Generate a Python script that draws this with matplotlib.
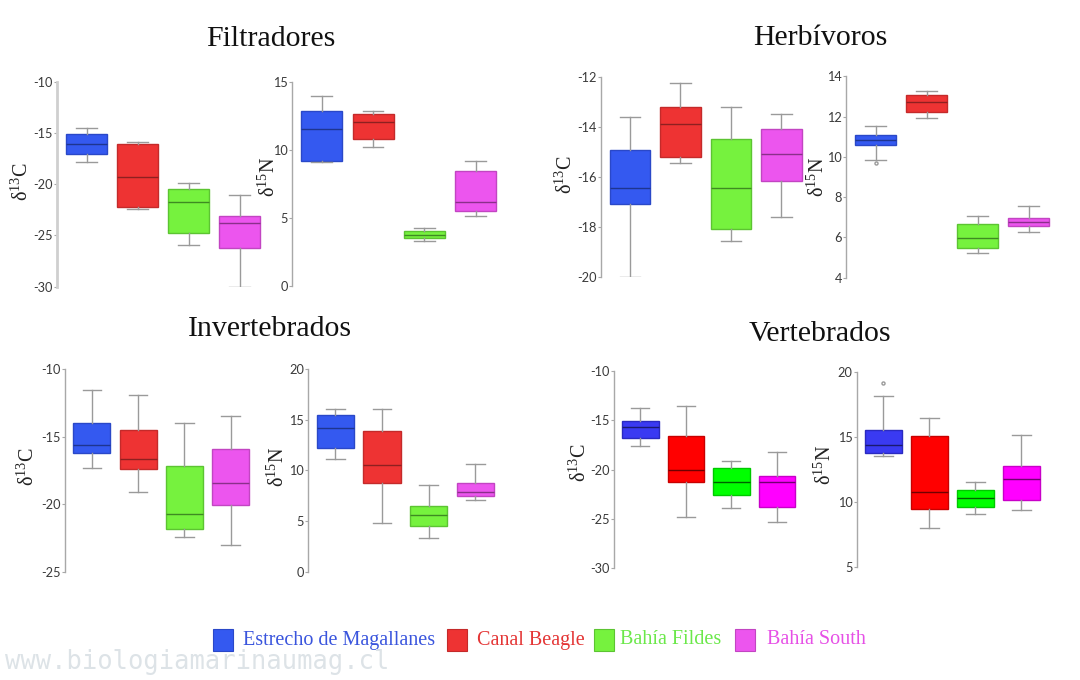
"""
Boxplots de isótopos estables (δ13C y δ15N) por grupo trófico y localidad.
"""

import matplotlib.pyplot as plt
from matplotlib.patches import Rectangle

plt.rcParams["font.family"] = ["Liberation Serif", "DejaVu Serif"]
plt.rcParams["mathtext.fontset"] = "custom"
plt.rcParams["mathtext.rm"] = "Liberation Serif"

# ---- datos: [bigote inf, Q1, mediana, Q3, bigote sup] por localidad ----
localidades = ["Estrecho de Magallanes", "Canal Beagle", "Bahía Fildes", "Bahía South"]

filt_c13 = [[-17.8, -17.1, -16.1, -15.1, -14.5],
            [-22.4, -22.2, -19.3, -16.1, -15.9],
            [-25.9, -24.8, -21.7, -20.5, -19.9],
            [-30.0, -26.2, -23.8, -23.1, -21.1]]
filt_n15 = [[9.1, 9.2, 11.5, 12.85, 13.95],
            [10.2, 10.75, 12.0, 12.6, 12.85],
            [3.25, 3.5, 3.75, 4.0, 4.25],
            [5.15, 5.5, 6.15, 8.4, 9.2]]

herb_c13 = [[-20.0, -17.1, -16.45, -14.95, -13.6],
            [-15.45, -15.2, -13.9, -13.2, -12.25],
            [-18.55, -18.1, -16.45, -14.5, -13.2],
            [-17.6, -16.15, -15.1, -14.1, -13.5]]
herb_n15 = [[9.85, 10.6, 10.82, 11.08, 11.52],
            [11.93, 12.23, 12.74, 13.05, 13.25],
            [5.25, 5.45, 5.95, 6.65, 7.05],
            [6.25, 6.55, 6.78, 6.95, 7.55]]
herb_n15_outliers = [[9.68], [], [], []]

inv_c13 = [[-17.3, -16.2, -15.6, -14.0, -11.55],
           [-19.1, -17.4, -16.65, -14.5, -11.9],
           [-22.45, -21.85, -20.75, -17.2, -14.0],
           [-23.0, -20.1, -18.4, -15.95, -13.45]]
inv_n15 = [[11.1, 12.25, 14.15, 15.45, 16.1],
           [4.8, 8.8, 10.5, 13.9, 16.1],
           [3.3, 4.55, 5.55, 6.5, 8.55],
           [7.05, 7.45, 7.85, 8.8, 10.6]]

vert_c13 = [[-17.6, -16.8, -15.7, -15.1, -13.8],
            [-24.8, -21.3, -20.0, -16.6, -13.5],
            [-23.9, -22.6, -21.3, -19.8, -19.1],
            [-25.35, -23.8, -21.3, -20.65, -18.2]]
vert_n15 = [[13.5, 13.8, 14.4, 15.5, 18.1],
            [8.0, 9.45, 10.8, 15.1, 16.45],
            [9.05, 9.6, 10.3, 10.95, 11.55],
            [9.4, 10.15, 11.8, 12.75, 15.15]]
vert_n15_outliers = [[19.1], [], [], []]

c13_ticks_filt = [-30, -25, -20, -15, -10]
n15_ticks_filt = [0, 5, 10, 15]
c13_ticks_herb = [-20, -18, -16, -14, -12]
n15_ticks_herb = [4, 6, 8, 10, 12, 14]
c13_ticks_inv = [-25, -20, -15, -10]
n15_ticks_inv = [0, 5, 10, 15, 20]
c13_ticks_vert = [-30, -25, -20, -15, -10]
n15_ticks_vert = [5, 10, 15, 20]

# ---- colores ----
suaves = ["#3459F0", "#EE3333", "#76F23E", "#EC55EE"]
bordes = ["#2A48C8", "#C42A2A", "#5CC432", "#C245C2"]
medianas = ["#1E3590", "#8E2020", "#3E8A22", "#8A308A"]
vivos = ["#3A3AF2", "#FF0000", "#00FF00", "#FF00FF"]
bordes_vivos = ["#2A2AC0", "#C80000", "#00C800", "#C800C8"]
medianas_vivas = ["#1A1A70", "#700000", "#006000", "#700070"]
leyenda_txt = ["#3A55DD", "#E43535", "#6BE84A", "#E650E6"]

W, H = 1080, 680
fig = plt.figure(figsize=(W / 100, H / 100), dpi=100)
fig.patch.set_facecolor("white")


def panel(left, top, bottom, spacing, stats, outliers, ylim, ticks,
          colors, edges, meds, spine_color="#A8A8A8", spine_w=1.0):
    """Crea un eje en coordenadas de píxel y dibuja 4 cajas."""
    x0, x1 = 0.42, 4.58
    width = (x1 - x0) * spacing
    ax = fig.add_axes([left / W, 1 - bottom / H, width / W, (bottom - top) / H])
    bx = []
    for i, s in enumerate(stats):
        bx.append({"whislo": s[0], "q1": s[1], "med": s[2], "q3": s[3],
                   "whishi": s[4], "fliers": outliers[i] if outliers else []})
    art = ax.bxp(bx, positions=[1, 2, 3, 4], widths=0.8, patch_artist=True,
                 showfliers=True,
                 whiskerprops={"color": "#9A9A9A", "linewidth": 1.0},
                 capprops={"color": "#9A9A9A", "linewidth": 1.0},
                 flierprops={"marker": "o", "markersize": 2.2,
                             "markerfacecolor": "none",
                             "markeredgecolor": "#9A9A9A"})
    for i, box in enumerate(art["boxes"]):
        box.set_facecolor(colors[i])
        box.set_edgecolor(edges[i])
        box.set_linewidth(1.0)
        art["medians"][i].set_color(meds[i])
        art["medians"][i].set_linewidth(1.0)
    ax.set_xlim(x0, x1)
    ax.set_ylim(*ylim)
    ax.set_yticks(ticks)
    ax.set_yticklabels([str(t) for t in ticks], fontfamily="Lato",
                       fontsize=9.2, color="#3A3A3A")
    ax.set_xticks([])
    ax.tick_params(axis="y", length=2, width=0.8, color="#A8A8A8", pad=1)
    for side in ("top", "right", "bottom"):
        ax.spines[side].set_visible(False)
    ax.spines["left"].set_color(spine_color)
    ax.spines["left"].set_linewidth(spine_w)
    ax.set_facecolor("none")
    return ax


def ylabel(x, y, iso, elem):
    fig.text(x / W, 1 - y / H, r"$\mathrm{δ^{%s}%s}$" % (iso, elem),
             rotation=90, ha="center", va="center", fontsize=14.5,
             color="#222222")


def title(x, y, txt):
    fig.text(x / W, 1 - y / H, txt, ha="center", va="center",
             fontsize=21.5, color="#111111")


# Filtradores
panel(57, 81.7, 286.7, 51, filt_c13, None, (-30, -10), c13_ticks_filt,
      suaves, bordes, medianas, spine_color="#CFCFCF", spine_w=2.0)
panel(292, 81.7, 285.7, 51.3, filt_n15, None, (0, 15), n15_ticks_filt,
      suaves, bordes, medianas)
ylabel(22, 182, "13", "C")
ylabel(269, 177, "15", "N")
title(271, 39, "Filtradores")

# Herbívoros
panel(600.7, 76.5, 277, 50.5, herb_c13, None, (-20, -12), c13_ticks_herb,
      suaves, bordes, medianas)
panel(846, 76.3, 277.7, 51, herb_n15, herb_n15_outliers, (4, 14),
      n15_ticks_herb, suaves, bordes, medianas)
ylabel(566, 175, "13", "C")
ylabel(818, 177, "15", "N")
title(820, 38, "Herbívoros")

# Invertebrados
panel(65, 369, 571.7, 46.3, inv_c13, None, (-25, -10), c13_ticks_inv,
      suaves, bordes, medianas)
panel(308.3, 369, 571.7, 46.7, inv_n15, None, (0, 20), n15_ticks_inv,
      suaves, bordes, medianas)
ylabel(28, 467, "13", "C")
ylabel(278, 467, "15", "N")
title(270, 329, "Invertebrados")

# Vertebrados
panel(614, 371, 568.3, 45.5, vert_c13, None, (-30, -10), c13_ticks_vert,
      vivos, bordes_vivos, medianas_vivas)
panel(856.7, 371.7, 567.3, 46, vert_n15, vert_n15_outliers, (5, 20),
      n15_ticks_vert, vivos, bordes_vivos, medianas_vivas)
ylabel(580, 463, "13", "C")
ylabel(825, 465, "15", "N")
title(820, 334, "Vertebrados")

# Leyenda
leg_x = [213, 447, 594, 735]
leg_txt_x = [243, 477, 620, 767]
for i, nombre in enumerate(localidades):
    fig.patches.append(Rectangle((leg_x[i] / W, 1 - 651 / H), 20 / W, 22 / H,
                                 transform=fig.transFigure, facecolor=suaves[i],
                                 edgecolor=bordes[i], linewidth=0.8))
    fig.text(leg_txt_x[i] / W, 1 - 640 / H, nombre, ha="left", va="center",
             fontsize=14.5, color=leyenda_txt[i])

# Marca de agua
fig.text(5 / W, 1 - 662 / H, "www.biologiamarinaumag.cl", ha="left",
         va="center", fontsize=18.4, fontfamily="DejaVu Sans Mono",
         color="#DDE3E7")

fig.savefig("out.png", dpi=100)
